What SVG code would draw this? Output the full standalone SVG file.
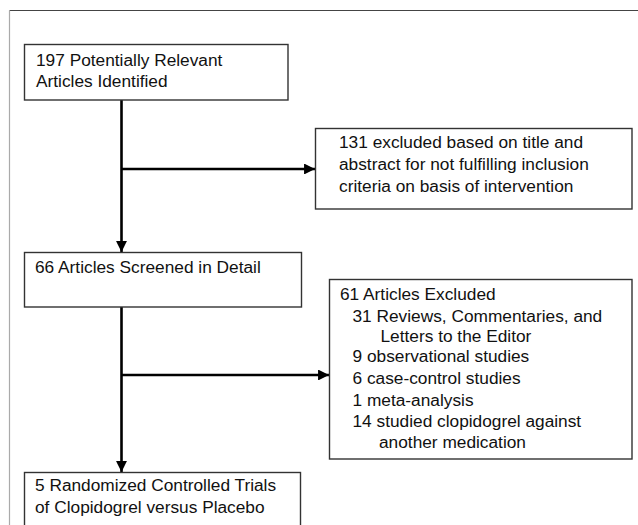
<svg xmlns="http://www.w3.org/2000/svg" width="638" height="525" viewBox="0 0 638 525">
<style>
.box{fill:#fff;stroke:#333;stroke-width:1.4}
.t{font-family:"Liberation Sans",Arial,sans-serif;font-size:17.3px;fill:#111}
.c{stroke:#000;stroke-width:2.6;fill:none}
</style>
<defs>
<marker id="ah" viewBox="0 0 10 10" refX="10" refY="5" markerWidth="4.4" markerHeight="4.2" orient="auto" markerUnits="strokeWidth">
<path d="M0,0 L10,5 L0,10 Z" fill="#000"/>
</marker>
</defs>
<rect x="0" y="0" width="638" height="525" fill="#fff"/>
<path d="M9.5,10.5 H640" fill="none" stroke="#444" stroke-width="1.2"/>
<path d="M9.5,530 V10.5" fill="none" stroke="#aaa" stroke-width="1.2"/>
<g id="connectors">
<line class="c" x1="121.5" y1="100" x2="121.5" y2="252" marker-end="url(#ah)"/>
<line class="c" x1="121.5" y1="169" x2="315" y2="169" marker-end="url(#ah)"/>
<line class="c" x1="121.5" y1="307" x2="121.5" y2="472" marker-end="url(#ah)"/>
<line class="c" x1="121.5" y1="375" x2="329" y2="375" marker-end="url(#ah)"/>
</g>
<g id="n1">
<rect class="box" x="24.5" y="44.5" width="263.5" height="55.5"/>
<text class="t" x="36" y="66">197 Potentially Relevant</text>
<text class="t" x="36" y="87">Articles Identified</text>
</g>
<g id="n2">
<rect class="box" x="315.5" y="128.5" width="316.5" height="80.5"/>
<text class="t" x="339" y="148">131 excluded based on title and</text>
<text class="t" x="339" y="170">abstract for not fulfilling inclusion</text>
<text class="t" x="339" y="192">criteria on basis of intervention</text>
</g>
<g id="n3">
<rect class="box" x="24.5" y="252.5" width="277" height="54.5"/>
<text class="t" x="35" y="273">66 Articles Screened in Detail</text>
</g>
<g id="n4">
<rect class="box" x="329.5" y="279.5" width="302.5" height="179.5"/>
<text class="t" x="340" y="300">61 Articles Excluded</text>
<text class="t" x="352.5" y="321.5">31  Reviews, Commentaries, and</text>
<text class="t" x="380.5" y="342">Letters to the Editor</text>
<text class="t" x="352.5" y="362">9 observational studies</text>
<text class="t" x="352.5" y="383.5">6 case-control studies</text>
<text class="t" x="352.5" y="405.5">1 meta-analysis</text>
<text class="t" x="352.5" y="426.5">14 studied clopidogrel against</text>
<text class="t" x="379" y="448">another medication</text>
</g>
<g id="n5">
<rect class="box" x="24.5" y="472.5" width="276" height="60"/>
<text class="t" x="35" y="491">5 Randomized Controlled Trials</text>
<text class="t" x="35" y="513">of Clopidogrel versus Placebo</text>
</g>
</svg>
